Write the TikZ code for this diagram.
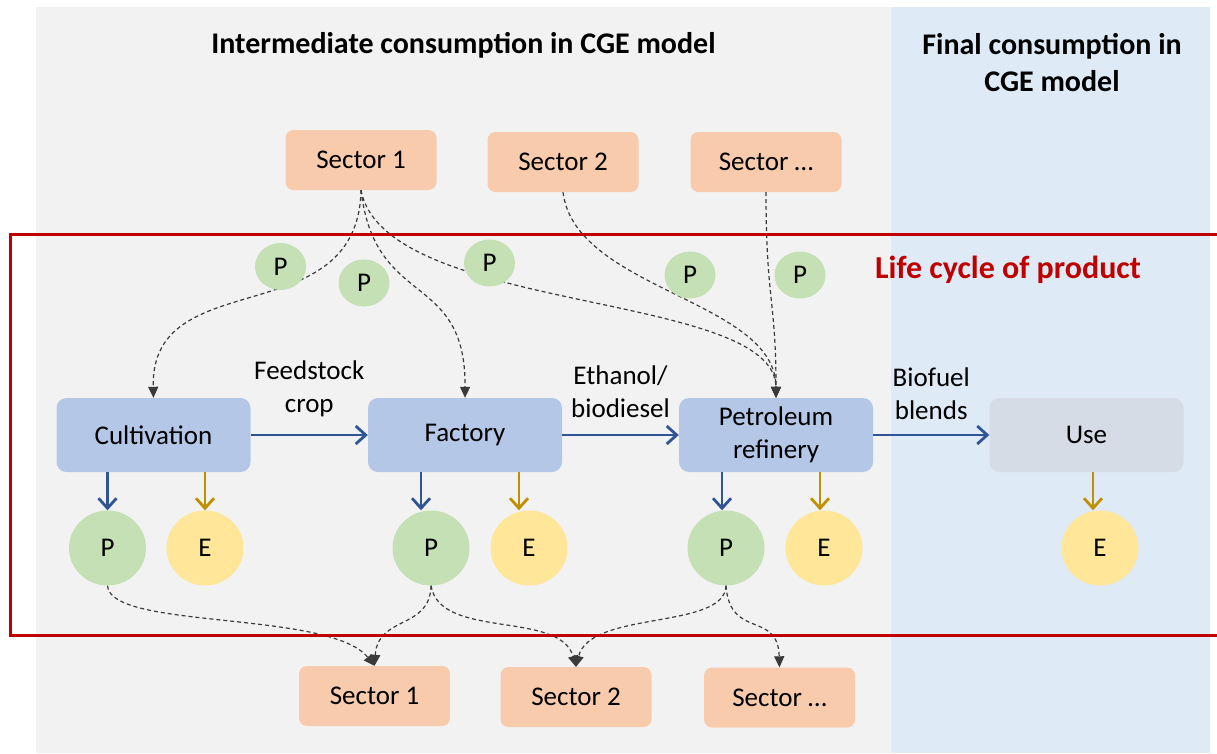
\documentclass[tikz,border=0pt]{standalone}
\usepackage{fontspec}
\setmainfont{Carlito}
\usepackage{tikz}
\usetikzlibrary{arrows.meta}
\usetikzlibrary{shapes.geometric,calc}

\definecolor{bggray}{HTML}{F2F2F2}
\definecolor{bgblue}{HTML}{DEEAF6}
\definecolor{sectorc}{HTML}{F8CBAD}
\definecolor{stagec}{HTML}{B4C7E7}
\definecolor{usec}{HTML}{D6DCE5}
\definecolor{pgreen}{HTML}{C5E0B4}
\definecolor{eyellow}{HTML}{FFE699}
\definecolor{lcred}{HTML}{C00000}
\definecolor{flowblue}{HTML}{2F5597}
\definecolor{flowgold}{HTML}{BF9000}
\definecolor{linkgray}{HTML}{3A3A3A}

\tikzset{
  txt/.style={font=\fontsize{27}{33}\selectfont},
  head/.style={font=\fontsize{30}{37}\selectfont\bfseries, align=center},
  sector/.style={txt, fill=sectorc, rounded corners=8pt, minimum width=151pt, minimum height=60pt, inner sep=0pt},
  stage/.style={txt, fill=stagec, rounded corners=10pt, minimum width=194pt, minimum height=74pt, inner sep=0pt, align=center},
  pbig/.style={txt, ellipse, fill=pgreen, minimum width=77pt, minimum height=75pt, inner sep=0pt},
  ebig/.style={pbig, fill=eyellow},
  psmall/.style={txt, ellipse, fill=pgreen, minimum width=51pt, minimum height=47pt, inner sep=0pt},
  lbl/.style={txt, align=center, midway, yshift=43pt},
  flow/.style={draw=flowblue, line width=2.8pt, -{Straight Barb[length=10pt,width=18pt]}},
  eflow/.style={flow, draw=flowgold},
  link/.style={draw=linkgray, line width=1.2pt, dash pattern=on 4pt off 3pt, -{Triangle[length=11pt,width=10pt]}},
}

\begin{document}
\begin{tikzpicture}[x=1pt, y=-1pt]
  \useasboundingbox (0,0) rectangle (1217,753);
  \fill[bggray] (36,7) rectangle (891,753);
  \fill[bgblue] (891,7) rectangle (1210,753);

  \node[head] (intm) at (463.5,45) {Intermediate consumption in CGE model};
  \node[head] (finl) at (1052,63) {Final consumption in\\CGE model};

  % sectors that deliver inputs
  \node[sector] (s1) at (361,160) {Sector 1};
  \node[sector] (s2) at (563,162) {Sector 2};
  \node[sector] (sn) at (766,162) {Sector …};

  % life cycle stages
  \node[stage] (cult) at (153.5,435) {Cultivation};
  \node[stage] (fac) at (465,435) {Factory};
  \node[stage] (ref) at (776,435) {Petroleum\\refinery};
  \node[stage, fill=usec] (use) at (1086.5,435) {Use};

  \node[pbig] (cultP) at (107.5,548) {P};
  \node[ebig] (cultE) at (205,548) {E};
  \node[pbig] (facP) at (431,548) {P};
  \node[ebig] (facE) at (529,548) {E};
  \node[pbig] (refP) at (726,548) {P};
  \node[ebig] (refE) at (824,548) {E};
  \node[ebig] (useE) at (1100,548) {E};

  % sectors that take the products
  \node[sector] (b1) at (374.5,696) {Sector 1};
  \node[sector] (b2) at (576,697) {Sector 2};
  \node[sector] (bn) at (779.5,697.5) {Sector …};

  \draw[flow] (cult) -- node[lbl, yshift=3pt] {Feedstock\\crop} (fac);
  \draw[flow] (fac) -- node[lbl] {Ethanol/\\biodiesel} (ref);
  \draw[flow] (ref) -- node[lbl, yshift=-2pt] {Biofuel\\blends} (use);

  \draw[flow] (cultP |- cult.south) -- (cultP.north);
  \draw[eflow] (cultE |- cult.south) -- (cultE.north);
  \draw[flow] ($(facP |- fac.south)+(-10,0)$) -- ($(facP.north)+(-10,0)$);
  \draw[eflow] ($(facE |- fac.south)+(-10,0)$) -- ($(facE.north)+(-10,0)$);
  \draw[flow] ($(refP |- ref.south)+(-4,0)$) -- ($(refP.north)+(-4,0)$);
  \draw[eflow] ($(refE |- ref.south)+(-4,0)$) -- ($(refE.north)+(-4,0)$);
  \draw[eflow] ($(useE |- use.south)+(-7,0)$) -- ($(useE.north)+(-7,0)$);

  % inputs
  \draw[link] (s1.south) .. controls (358,335) and (150,262) .. (cult.north);
  \draw[link] (s1.south) .. controls (375,310) and (466,270) .. (fac.north);
  \draw[link] (s1.south) .. controls (385,315) and (775,290) .. (ref.north);
  \draw[link] (s2.south) .. controls (575,290) and (776,300) .. (ref.north);
  \draw[link] (sn.south) .. controls (766,300) and (776,300) .. (ref.north);

  % outputs
  \draw[link] (cultP.south) .. controls (110,630) and (330,610) .. (b1.north);
  \draw[link] (facP.south) .. controls (430,630) and (378,615) .. (b1.north);
  \draw[link] (facP.south) .. controls (440,640) and (560,610) .. (b2.north);
  \draw[link] (refP.south) .. controls (725,630) and (590,610) .. (b2.north);
  \draw[link] (refP.south) .. controls (730,640) and (778,610) .. (bn.north);

  \node[psmall] (p1) at (280.5,266.5) {P};
  \node[psmall] (p2) at (364,283) {P};
  \node[psmall] (p3) at (489.5,263) {P};
  \node[psmall] (p4) at (690,275) {P};
  \node[psmall] (p5) at (800,275) {P};

  \draw[lcred, line width=3pt] (1217,234.5) -- (10,234.5) -- (10,635) -- (1217,635);
  \node[font=\fontsize{32}{38}\selectfont\bfseries, text=lcred] (lcp) at (1008,270) {Life cycle of product};
\end{tikzpicture}
\end{document}
